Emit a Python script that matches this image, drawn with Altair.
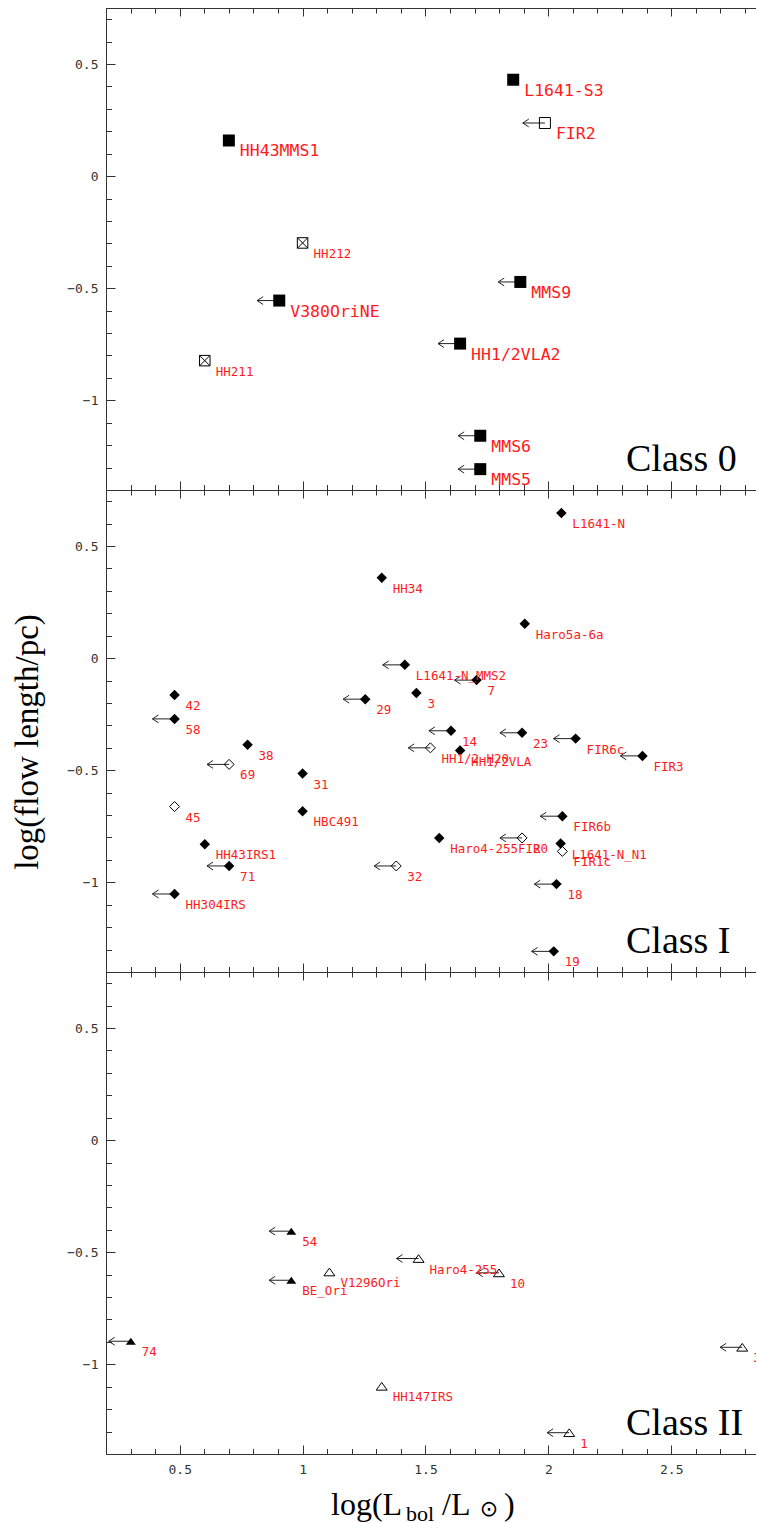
import altair as alt
import pandas as pd

# ---------------- data ----------------
# Class 0
c0_name = ["L1641-S3", "FIR2", "HH43MMS1", "HH212", "V380OriNE", "MMS9",
           "HH1/2VLA2", "HH211", "MMS6", "MMS5"]
c0_x = [1.857, 1.986, 0.700, 1.000, 0.905, 1.886, 1.641, 0.602, 1.723, 1.723]
c0_y = [0.430, 0.237, 0.159, -0.298, -0.555, -0.472, -0.747, -0.823, -1.158, -1.307]
c0_kind = ["filled", "open", "filled", "crossed", "filled", "filled",
           "filled", "crossed", "filled", "filled"]
c0_limit = [False, True, False, False, True, True, True, False, True, True]

# Class I
c1_name = ["L1641-N", "HH34", "Haro5a-6a", "L1641-N_MMS2", "7", "42", "3", "29",
           "58", "14", "23", "FIR6c", "38", "HH1/2-H20", "HH1/2VLA", "FIR3", "69",
           "31", "45", "HBC491", "FIR6b", "Haro4-255FIR", "20", "L1641-N_N1",
           "FIR1c", "HH43IRS1", "71", "32", "18", "HH304IRS", "19"]
c1_x = [2.053, 1.322, 1.904, 1.416, 1.708, 0.479, 1.463, 1.255, 0.479, 1.604,
        1.893, 2.111, 0.776, 1.520, 1.641, 2.383, 0.701, 1.000, 0.479, 1.000,
        2.057, 1.556, 1.893, 2.050, 2.057, 0.602, 0.701, 1.381, 2.033, 0.479, 2.022]
c1_y = [0.647, 0.359, 0.153, -0.030, -0.098, -0.164, -0.156, -0.183, -0.271, -0.324,
        -0.333, -0.359, -0.386, -0.400, -0.412, -0.436, -0.474, -0.515, -0.662, -0.683,
        -0.705, -0.802, -0.802, -0.827, -0.862, -0.830, -0.927, -0.927, -1.008, -1.052,
        -1.308]
c1_kind = ["filled", "filled", "filled", "filled", "filled", "filled", "filled", "filled",
           "filled", "filled", "filled", "filled", "filled", "open", "filled", "filled",
           "open", "filled", "open", "filled", "filled", "filled", "open", "filled",
           "open", "filled", "filled", "open", "filled", "filled", "filled"]
c1_limit = [False, False, False, True, True, False, False, True, True, True,
            True, True, False, True, False, True, True, False, False, False,
            True, False, True, False, False, False, True, True, True, True, True]

# Class II
c2_name = ["54", "Haro4-255", "V1296Ori", "10", "BE_Ori", "74", "3", "HH147IRS", "1"]
c2_x = [0.954, 1.472, 1.109, 1.799, 0.954, 0.301, 2.789, 1.322, 2.085]
c2_y = [-0.406, -0.528, -0.588, -0.592, -0.625, -0.897, -0.924, -1.098, -1.305]
c2_kind = ["filled", "open", "open", "open", "filled", "filled", "open", "open", "open"]
c2_limit = [True, True, False, True, True, True, True, False, True]

class_titles = ["Class 0", "Class I", "Class II"]
y_title = ["log(flow length/pc)"]
x_title_parts = ["log(L", "bol", "/L", "\u2299", ")"]

x_major = [0.5, 1.0, 1.5, 2.0, 2.5]
x_minor = [0.3, 0.4, 0.6, 0.7, 0.8, 0.9, 1.1, 1.2, 1.3, 1.4, 1.6, 1.7, 1.8, 1.9,
           2.1, 2.2, 2.3, 2.4, 2.6, 2.7, 2.8]
y_major = [-1.0, -0.5, 0.0, 0.5]
y_minor = [-1.3, -1.2, -1.1, -0.9, -0.8, -0.7, -0.6, -0.4, -0.3, -0.2, -0.1,
           0.1, 0.2, 0.3, 0.4, 0.6, 0.7]

XDOM = [0.2, 2.845]
YDOM = [-1.4, 0.75]

# ---------------- layout / style ----------------
W, H = 650, 482
ARROW = 0.09
CHEVRON = "M2,-1.3L0,0L2,1.3"
CROSSED = "M-1,-1L1,-1L1,1L-1,1Z M-1,-1L1,1 M1,-1L-1,1"
TRI = "M0,-0.7L1,0.7L-1,0.7Z"
LABEL_RED = "#ff1a1a"
INK = "#222"

xs = alt.Scale(domain=XDOM, nice=False, zero=False)
ys = alt.Scale(domain=YDOM, nice=False, zero=False)

common = dict(grid=False, title=None, domainColor="#333", tickColor="#333",
              labelColor="#333", labelFont="DejaVu Sans Mono", labelFontSize=13,
              domainWidth=1, tickWidth=1)


def tick_axis(orient, offset, values, size):
    return alt.Axis(orient=orient, offset=offset, values=values, labels=False,
                    tickSize=size, **common)


def x_axes(bottom):
    axes = [
        tick_axis("top", -H, x_major, 9),      # bottom edge, ticks pointing up
        tick_axis("top", -H, x_minor, 5.5),
        tick_axis("bottom", -H, x_major, 8),   # top edge, ticks pointing down
        tick_axis("bottom", -H, x_minor, 5),
    ]
    if bottom:
        axes.append(alt.Axis(orient="bottom", values=x_major, ticks=False, domain=False,
                             labelPadding=9, format="~g", **common))
    return axes


def y_axes():
    return [
        alt.Axis(orient="left", values=y_major, ticks=False, domain=False,
                 labelPadding=8, format="~g", **common),
        tick_axis("right", -W, y_major, 9),    # left edge, ticks pointing right
        tick_axis("right", -W, y_minor, 5.5),
    ]


def frame(names, xv, yv, kinds, limits):
    return pd.DataFrame({"name": names, "x": xv, "y": yv, "kind": kinds, "limit": limits})


def panel(df, styles, label_size, title, bottom, extra=()):
    base = alt.Chart(df)
    arrows = base.transform_filter("datum.limit").transform_calculate(xtip=f"datum.x - {ARROW}")
    # (mark, xfield, extra encodings)
    specs = [
        (arrows.mark_rule(color=INK, strokeWidth=1), "x:Q", {"x2": "xtip:Q"}),
        (arrows.mark_point(shape=CHEVRON, size=36, filled=False, color=INK,
                           strokeWidth=1, opacity=1), "xtip:Q", {}),
    ]
    for kind, (shape, size, filled) in styles.items():
        m = base.transform_filter(f"datum.kind == '{kind}'").mark_point(
            shape=shape, size=size, filled=filled, color="black", opacity=1,
            strokeWidth=1 if not filled else 0)
        specs.append((m, "x:Q", {}))
    specs.append((base.mark_text(align="left", baseline="middle", dx=11, dy=11,
                                 color=LABEL_RED, font="DejaVu Sans Mono", clip=True),
                  "x:Q", {"text": "name:N", "size": label_size}))
    xa = x_axes(bottom)
    ya = y_axes()
    layers = []
    for i, (m, xf, enc) in enumerate(specs):
        ax = xa[i] if i < len(xa) else None
        ay = ya[i] if i < len(ya) else None
        layers.append(m.encode(x=alt.X(xf, scale=xs, axis=ax),
                               y=alt.Y("y:Q", scale=ys, axis=ay), **enc))
    layers.append(alt.Chart(pd.DataFrame({"t": [title]})).mark_text(
        align="left", baseline="alphabetic", font="Liberation Serif", fontSize=38,
        color="black").encode(x=alt.value(520), y=alt.value(H - 19), text="t:N"))
    layers.extend(extra)
    return alt.layer(*layers).resolve_axis(x="independent", y="independent").properties(
        width=W, height=H)


# y-axis title (drawn in middle panel)
ytitle = alt.Chart(pd.DataFrame({"t": y_title})).mark_text(
    angle=270, align="center", baseline="middle", font="Liberation Serif",
    fontSize=33, color="black").encode(x=alt.value(-78), y=alt.value(252), text="t:N")

# x-axis title pieces (drawn in bottom panel)
xt = pd.DataFrame({"t": x_title_parts})
BASE_Y = 543


def xpiece(i, xpos, ypos, size, font="Liberation Serif", align="left", baseline="alphabetic"):
    return alt.Chart(xt).transform_filter(f"datum.t == {x_title_parts[i]!r}").mark_text(
        align=align, baseline=baseline, font=font, fontSize=size, color="black").encode(
        x=alt.value(xpos), y=alt.value(ypos), text="t:N")


xtitle = [
    xpiece(0, 225, BASE_Y, 32),
    xpiece(1, 300, BASE_Y + 6, 22),
    xpiece(2, 336, BASE_Y, 32),
    xpiece(3, 383, BASE_Y - 6, 22, font="DejaVu Sans", align="center", baseline="middle"),
    xpiece(4, 398, BASE_Y, 32),
]

p0 = panel(frame(c0_name, c0_x, c0_y, c0_kind, c0_limit),
           {"filled": ("square", 144, True), "open": ("square", 121, False),
            "crossed": (CROSSED, 110, False)},
           alt.condition("datum.kind == 'crossed'", alt.value(12.5), alt.value(16.5)),
           class_titles[0], False)
p1 = panel(frame(c1_name, c1_x, c1_y, c1_kind, c1_limit),
           {"filled": ("diamond", 110, True), "open": ("diamond", 100, False)},
           alt.value(12.5), class_titles[1], False, extra=[ytitle])
p2 = panel(frame(c2_name, c2_x, c2_y, c2_kind, c2_limit),
           {"filled": (TRI, 100, True), "open": (TRI, 121, False)},
           alt.value(12.5), class_titles[2], True, extra=xtitle)

chart = alt.vconcat(p0, p1, p2, spacing=0, bounds="flush").properties(
    padding={"left": 12, "top": 7, "right": 0, "bottom": 0}
).configure_view(stroke=None).configure_axis(grid=False)

chart.save("out.html", embed_options={"renderer": "svg", "actions": False})
